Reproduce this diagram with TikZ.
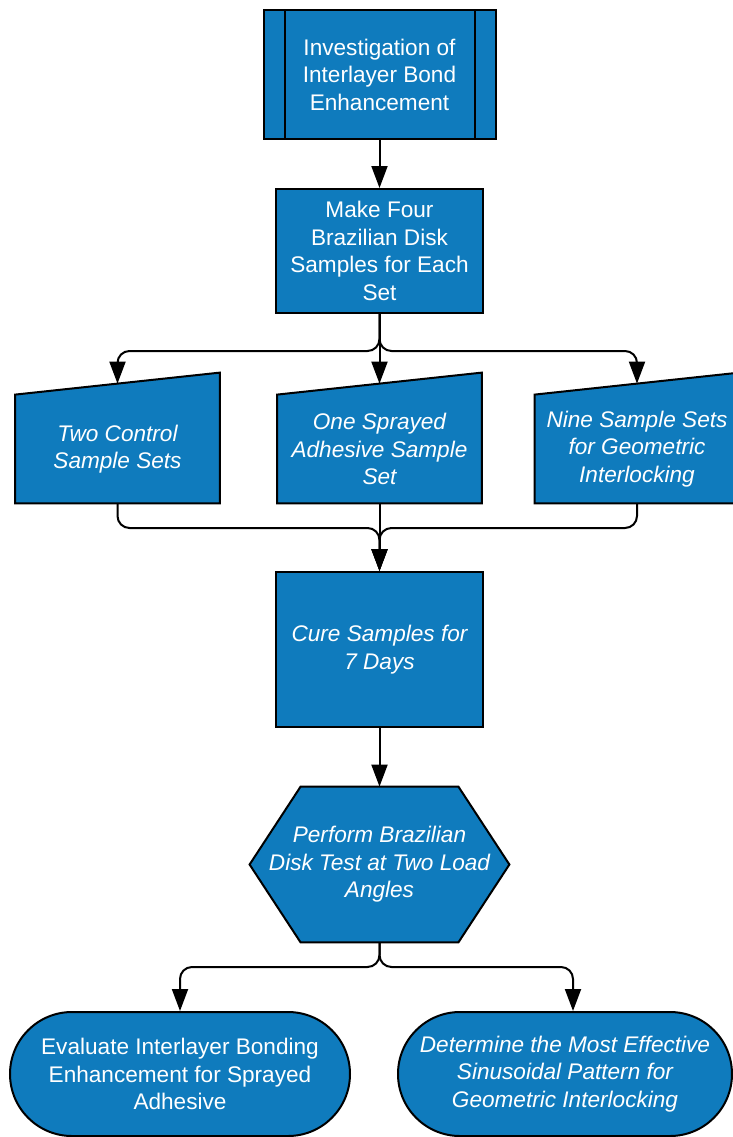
\documentclass[tikz,border=0pt]{standalone}
\usepackage{fontspec}
\setmainfont{Liberation Sans}
\usetikzlibrary{arrows.meta,shapes.misc,backgrounds}
\definecolor{flowblue}{HTML}{0F7BBD}

\begin{document}
\begin{tikzpicture}[
    x=0.5pt, y=-0.5pt,
    >={Triangle[length=11pt,width=8pt]},
    base/.style={
        text=white,
        align=center,
        inner sep=0pt,
        font=\fontsize{11.3pt}{13.75pt}\selectfont
    },
    box/.style={
        base,
        draw,
        line width=1pt,
        fill=flowblue,
        minimum width=103.5pt,
        minimum height=62pt
    },
    slanted/.style={
        base,
        font=\fontsize{11.3pt}{13.75pt}\selectfont\itshape,
        minimum width=102pt,
        minimum height=54pt
    },
    shapebg/.style={
        draw,
        line width=1pt,
        fill=flowblue
    },
    term/.style={
        base,
        draw,
        line width=1pt,
        fill=flowblue,
        rounded rectangle,
        minimum height=62pt
    },
    arr/.style={
        ->,
        line width=1pt,
        rounded corners=6pt
    }
]
    \useasboundingbox (0,0) rectangle (733,1137);

    \node[box, minimum width=116pt, minimum height=64.5pt] (inv) at (379.5,74.5)
        {Investigation of\\Interlayer Bond\\Enhancement};
    \draw[line width=1pt] ([xshift=11pt]inv.north west) -- ([xshift=11pt]inv.south west);
    \draw[line width=1pt] ([xshift=-11pt]inv.north east) -- ([xshift=-11pt]inv.south east);

    \node[box] (make) at (379.5,251)
        {Make Four\\Brazilian Disk\\Samples for Each\\Set};

    \node[slanted] (ctrl) at (117.5,449)
        {Two Control\\Sample Sets};

    \node[slanted] (spray) at (379.5,449)
        {One Sprayed\\Adhesive Sample\\Set};

    \node[slanted] (geom) at (637,449)
        {Nine Sample Sets\\for Geometric\\Interlocking};

    \node[box, minimum height=77.5pt, font=\fontsize{11.3pt}{13.75pt}\selectfont\itshape] (cure) at (379.5,649.5)
        {Cure Samples for\\7 Days};

    \node[slanted, minimum width=129.5pt, minimum height=77.5pt] (perf) at (379.5,864.5)
        {Perform Brazilian\\Disk Test at Two Load\\Angles};

    \node[term, minimum width=170pt] (eval) at (180,1074)
        {Evaluate Interlayer Bonding\\Enhancement for Sprayed\\Adhesive};

    \node[term, minimum width=167pt, font=\fontsize{11.3pt}{13.75pt}\selectfont\itshape] (det) at (565,1074)
        {Determine the Most Effective\\Sinusoidal Pattern for\\Geometric Interlocking};

    % manual input and hexagon outlines behind the texts
    \begin{pgfonlayer}{background}
        \foreach \n in {ctrl,spray,geom}
            \draw[shapebg] (\n.south west) -- (\n.north west)
                -- ([yshift=11pt]\n.north east) -- (\n.south east) -- cycle;
        \draw[shapebg] (perf.west) -- ([xshift=25.5pt]perf.north west)
            -- ([xshift=-25.5pt]perf.north east) -- (perf.east)
            -- ([xshift=-25.5pt]perf.south east) -- ([xshift=25.5pt]perf.south west) -- cycle;
    \end{pgfonlayer}

    \coordinate (fork) at (379.5,351);
    \coordinate (join) at (379.5,528);
    \coordinate (fork2) at (379.5,967);

    \draw[arr] (inv.south) -- (make.north);

    \draw[arr] (make.south) -- (fork) -| ([yshift=5.5pt]ctrl.north);
    \draw[arr] (make.south) -- ([yshift=5.5pt]spray.north);
    \draw[arr] (make.south) -- (fork) -| ([yshift=5.5pt]geom.north);

    \draw[arr] (ctrl.south) |- (join) -- (cure.north);
    \draw[arr] (spray.south) -- (cure.north);
    \draw[arr] (geom.south) |- (join) -- (cure.north);

    \draw[arr] (cure.south) -- (perf.north);

    \draw[arr] (perf.south) -- (fork2) -| (eval.north);
    \draw[arr] (perf.south) -- (fork2) -| ([xshift=4pt]det.north);

\end{tikzpicture}
\end{document}
